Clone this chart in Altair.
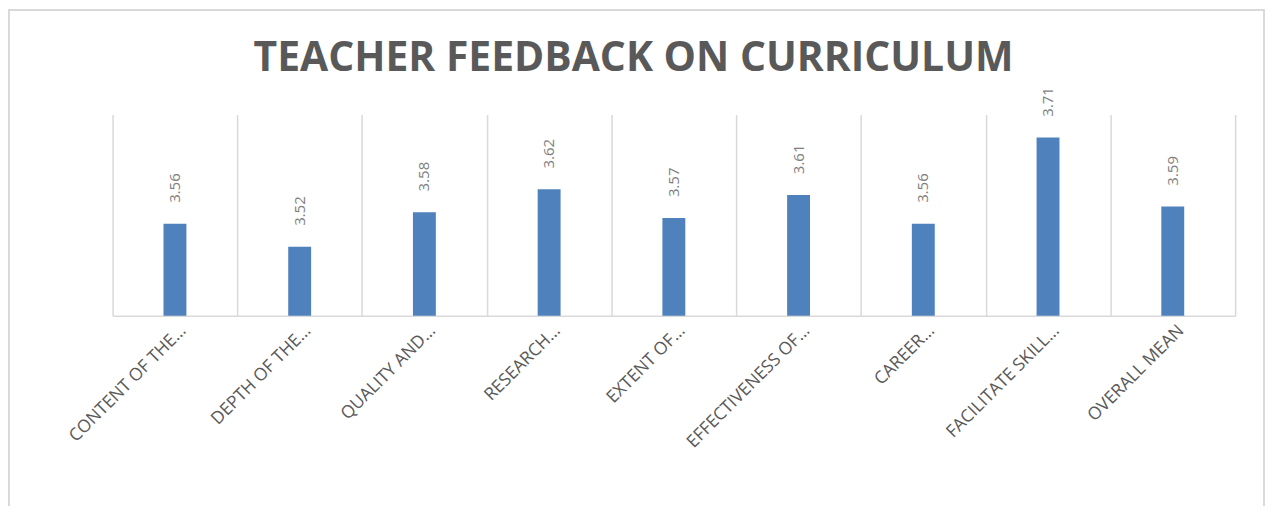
import altair as alt
import pandas as pd

title_text = "TEACHER FEEDBACK ON CURRICULUM"
categories = [
    "CONTENT OF THE…",
    "DEPTH OF THE…",
    "QUALITY AND…",
    "RESEARCH…",
    "EXTENT OF…",
    "EFFECTIVENESS OF…",
    "CAREER…",
    "FACILITATE SKILL…",
    "OVERALL MEAN",
]
values = [3.56, 3.52, 3.58, 3.62, 3.57, 3.61, 3.56, 3.71, 3.59]

df = pd.DataFrame({"category": categories, "value": values})

W, H = 1127, 202
PAD_L, PAD_T = 105, 106

x_enc = alt.X(
    "category:N",
    sort=categories,
    scale=alt.Scale(paddingInner=0, paddingOuter=0),
    axis=alt.Axis(
        title=None,
        labelAngle=-45,
        labelAlign="right",
        labelBaseline="middle",
        labelFont="Open Sans",
        labelFontSize=17.5,
        labelColor="#595959",
        labelPadding=12,
        labelOffset=8,
        labelLimit=400,
        ticks=False,
        tickBand="extent",
        grid=True,
        gridColor="#D9D9D9",
        gridWidth=1.5,
        domainColor="#D9D9D9",
        domainWidth=1.5,
    ),
)
y_scale = alt.Scale(domain=[3.4, 3.75], zero=False, nice=False)

bars = alt.Chart(df).mark_bar(size=23, color="#4F81BD").encode(
    x=x_enc,
    y=alt.Y("value:Q", scale=y_scale, axis=None),
    y2=alt.datum(3.4),
)

labels = alt.Chart(df).mark_text(
    angle=270,
    align="left",
    baseline="middle",
    dx=21,
    font="Open Sans",
    fontSize=15,
    color="#7F7F7F",
).encode(
    x=alt.X("category:N", sort=categories),
    y=alt.Y("value:Q", scale=y_scale),
    text=alt.Text("value:Q", format=".2f"),
)

border = alt.Chart(alt.Data(values=[{}])).mark_rect(
    fill=None, stroke="#D9D9D9", strokeWidth=2
).encode(
    x=alt.value(-104),
    x2=alt.value(1156),
    y=alt.value(-105),
    y2=alt.value(450),
)

title = alt.Chart(alt.Data(values=[{"t": title_text}])).mark_text(
    font="Open Sans",
    fontSize=41,
    fontWeight="bold",
    color="#595959",
    align="center",
    baseline="alphabetic",
).encode(
    text="t:N",
    x=alt.value(523),
    y=alt.value(-44),
)

chart = alt.layer(border, bars, labels, title).properties(
    width=W,
    height=H,
    autosize=alt.AutoSizeParams(type="none"),
    padding={"left": PAD_L, "top": PAD_T, "right": 30, "bottom": 190},
).configure_view(stroke=None)

chart.save("out.html", embed_options={"renderer": "svg", "actions": False})
